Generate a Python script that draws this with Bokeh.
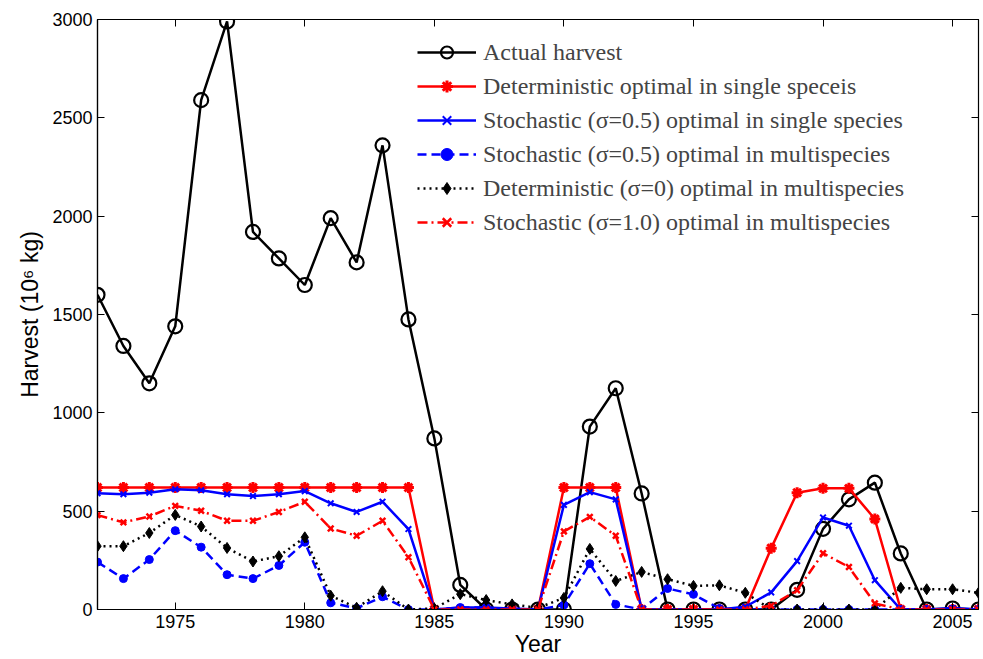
from bokeh.plotting import figure
from bokeh.models import Range1d, LinearAxis, FixedTicker, Legend, LegendItem
from bokeh.embed import file_html
from bokeh.resources import INLINE

years = list(range(1972, 2007))
actual = [1600, 1340, 1150, 1440, 2590, 2990, 1920, 1785, 1650, 1990, 1765, 2360, 1475, 870, 125,
          0, 0, 0, 0, 930, 1125, 590, 0, 0, 0, 0, 0, 100, 410, 560, 645, 285, 0, 5, 0]
det_single = [620] * 13 + [0] * 5 + [620, 620, 620] + [0] * 5 + [312, 594, 616, 616, 460] + [0] * 4
stoch_single = [591, 586, 594, 611, 606, 586, 577, 586, 602, 540, 496, 548, 409, 0, 10, 10, 5, 0,
                532, 597, 560, 0, 0, 0, 0, 14, 87, 246, 468, 426, 149, 0, 0, 8, 0]
stoch_multi_05 = [241, 157, 254, 401, 317, 177, 157, 224, 342, 34, 6, 65, 0, 0, 10, 10, 0, 0,
                  23, 233, 26, 0, 107, 77, 5, 0, 0, 0, 0, 0, 0, 0, 0, 0, 0]
det_multi = [322, 322, 389, 481, 422, 313, 244, 271, 367, 70, 9, 93, 0, 5, 78, 48, 26, 8,
             59, 308, 145, 191, 154, 120, 123, 85, 0, 0, 0, 0, 0, 110, 103, 103, 85]
stoch_multi_10 = [480, 443, 473, 527, 502, 451, 451, 496, 548, 412, 375, 451, 266, 0, 0, 0, 0, 0,
                  397, 471, 375, 0, 0, 0, 0, 0, 19, 98, 286, 216, 31, 0, 0, 0, 0]

labels = ["Actual harvest",
          "Deterministic optimal in single speceis",
          "Stochastic (\u03c3=0.5) optimal in single species",
          "Stochastic (\u03c3=0.5) optimal in multispecies",
          "Deterministic (\u03c3=0) optimal in multispecies",
          "Stochastic (\u03c3=1.0) optimal in multispecies"]
x_ticks = [1975, 1980, 1985, 1990, 1995, 2000, 2005]
y_ticks = [0, 500, 1000, 1500, 2000, 2500, 3000]

p = figure(width=983, height=659, output_backend="svg", toolbar_location=None,
           x_range=Range1d(1972, 2006), y_range=Range1d(0, 3000),
           min_border_left=97, min_border_right=5, min_border_top=19, min_border_bottom=44)
p.xgrid.visible = False
p.ygrid.visible = False
p.outline_line_color = "black"
p.outline_line_width = 1.2
p.background_fill_color = "white"

tick_font = "Liberation Sans"
for ax in p.xaxis:
    ax.ticker = FixedTicker(ticks=x_ticks)
    ax.axis_label = "Year"
for ax in p.yaxis:
    ax.ticker = FixedTicker(ticks=y_ticks)
    ax.axis_label = "Harvest (10\u2076 kg)"
for ax in list(p.xaxis) + list(p.yaxis):
    ax.major_tick_in = 7
    ax.major_tick_out = 0
    ax.minor_tick_line_color = None
    ax.axis_line_color = "black"
    ax.axis_line_width = 1.2
    ax.major_tick_line_color = "black"
    ax.major_label_text_font = tick_font
    ax.major_label_text_font_size = "18px"
    ax.major_label_text_color = "black"
    ax.axis_label_text_font = tick_font
    ax.axis_label_text_font_size = "23px"
    ax.axis_label_text_font_style = "normal"
    ax.axis_label_text_color = "black"
    ax.axis_label_standoff = 0
    ax.major_label_standoff = 5
p.yaxis[0].axis_label_standoff = 6

top = LinearAxis(ticker=FixedTicker(ticks=x_ticks),
                 major_label_overrides={t: "" for t in x_ticks},
                 major_tick_in=7, major_tick_out=0, minor_tick_line_color=None)
right = LinearAxis(ticker=FixedTicker(ticks=y_ticks),
                   major_label_overrides={t: "" for t in y_ticks},
                   major_tick_in=7, major_tick_out=0, minor_tick_line_color=None)
p.add_layout(top, "above")
p.add_layout(right, "right")

items = []
r1 = p.line(years, actual, line_color="black", line_width=2.5)
m1 = p.scatter(years, actual, marker="circle", size=14, fill_color=None, line_color="black", line_width=2.2)
items.append(LegendItem(label=labels[0], renderers=[r1, m1]))

r2 = p.line(years, det_single, line_color="red", line_width=2.5)
m2 = p.scatter(years, det_single, marker="asterisk", size=11, line_color="red", line_width=3)
items.append(LegendItem(label=labels[1], renderers=[r2, m2]))

r3 = p.line(years, stoch_single, line_color="blue", line_width=2.5)
m3 = p.scatter(years, stoch_single, marker="x", size=8, line_color="blue", line_width=2)
items.append(LegendItem(label=labels[2], renderers=[r3, m3]))

r4 = p.line(years, stoch_multi_05, line_color="blue", line_width=2.5, line_dash="9 5")
m4 = p.scatter(years, stoch_multi_05, marker="circle", size=8, fill_color="blue", line_color="blue")
items.append(LegendItem(label=labels[3], renderers=[r4, m4]))

r5 = p.line(years, det_multi, line_color="black", line_width=2.5, line_dash="2 4")
m5 = p.scatter(years, det_multi, marker="diamond", size=11, fill_color="black", line_color="black")
items.append(LegendItem(label=labels[4], renderers=[r5, m5]))

r6 = p.line(years, stoch_multi_10, line_color="red", line_width=2.5, line_dash="10 4 2 4")
m6 = p.scatter(years, stoch_multi_10, marker="x", size=8, line_color="red", line_width=2.5)
items.append(LegendItem(label=labels[5], renderers=[r6, m6]))

legend = Legend(items=items, location=(312, 364), background_fill_alpha=0,
                border_line_alpha=0, label_text_font="Liberation Serif",
                label_text_font_size="24px", glyph_width=59, glyph_height=30,
                label_height=30, spacing=4, label_standoff=7, padding=8, margin=0)
p.add_layout(legend, "center")

open("out.html", "w").write(file_html(p, INLINE))
